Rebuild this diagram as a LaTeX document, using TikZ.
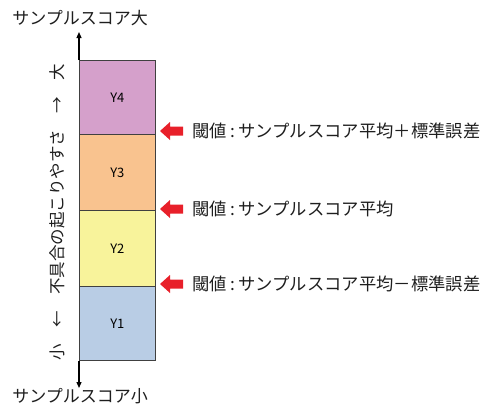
\documentclass[tikz,border=0pt]{standalone}
\usepackage{fontspec}
\setmainfont{Noto Sans CJK JP}
\usetikzlibrary{arrows.meta}
\definecolor{cY4}{RGB}{213,160,203}
\definecolor{cY3}{RGB}{249,195,143}
\definecolor{cY2}{RGB}{248,243,155}
\definecolor{cY1}{RGB}{185,205,229}
\definecolor{redarr}{RGB}{232,32,42}
\definecolor{txt}{RGB}{30,30,30}
\newcommand{\colsep}{\hspace{3.5pt}:\hspace{3.5pt}}
\tikzset{
  band/.style={draw=black!75, line width=0.8pt, minimum width=76pt, inner sep=0pt, anchor=north west, font=\fontsize{13}{13}\selectfont},
  lbl/.style={font=\fontsize{17}{17}\selectfont, text=txt, inner sep=0pt},
  thr/.style={lbl, anchor=west, font=\fontsize{17.3}{18}\selectfont},
  redblock/.style={fill=redarr, draw=none}
}
\begin{document}
\begin{tikzpicture}[x=1pt,y=-1pt]
\useasboundingbox (0,0) rectangle (487,410);
% bands
\node[band, fill=cY4, minimum height=74pt] (y4) at (79,60) {Y4};
\node[band, fill=cY3, minimum height=76pt] (y3) at (79,134) {Y3};
\node[band, fill=cY2, minimum height=76pt] (y2) at (79,210) {Y2};
\node[band, fill=cY1, minimum height=74pt] (y1) at (79,286) {Y1};
% axis
\coordinate (atop) at (79,32);
\coordinate (abot) at (79,388);
\draw[line width=1.2pt, -{Triangle[length=6pt,width=5pt]}] (y4.north west) -- (atop);
\draw[line width=1.2pt, -{Triangle[length=6pt,width=5pt]}] (y1.south west) -- (abot);
\node[lbl] (top) at (80,18) {サンプルスコア大};
\node[lbl] (bot) at (80,396) {サンプルスコア小};
% vertical label
\node[lbl, rotate=90, font=\fontsize{16.5}{17}\selectfont] (side) at (57,212) {小　←　不具合の起こりやすさ　→　大};
% thresholds
\foreach \yy/\nm/\tx in {131/t1/閾値\colsep サンプルスコア平均＋標準誤差, 209/t2/閾値\colsep サンプルスコア平均, 284/t3/閾値\colsep サンプルスコア平均－標準誤差}{
  \fill[redblock] (160,\yy) -- (170,\yy-9) -- (170,\yy-4.5) -- (183,\yy-4.5) -- (183,\yy+4.5) -- (170,\yy+4.5) -- (170,\yy+9) -- cycle;
  \node[thr] (\nm) at (192,\yy) {\tx};
}
\end{tikzpicture}
\end{document}
